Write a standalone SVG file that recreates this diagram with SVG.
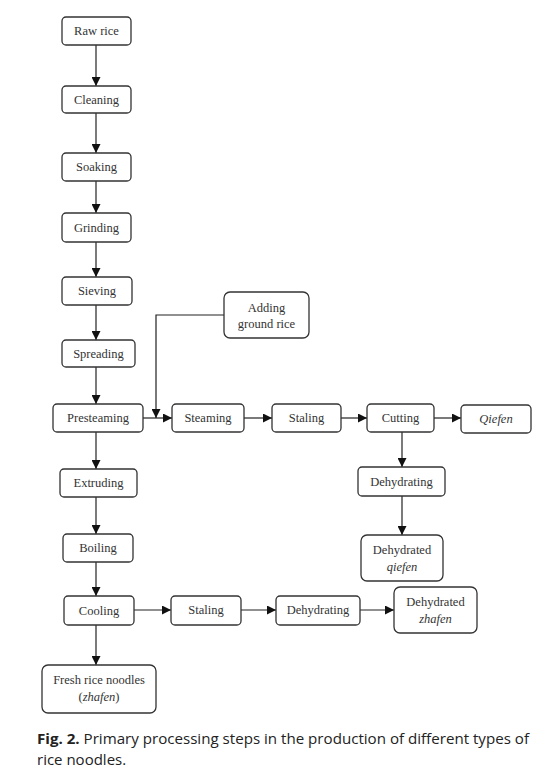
<svg xmlns="http://www.w3.org/2000/svg" width="559" height="781" viewBox="0 0 559 781">
<style>
.n rect{fill:#fff;stroke:#333;stroke-width:1.3}
.n text{font-family:"Liberation Serif",serif;font-size:12.5px;fill:#333;text-anchor:middle}
.c path{fill:none;stroke:#222;stroke-width:1.2}
.cap{font-family:"Open Sans","Liberation Sans",sans-serif;font-size:15px;fill:#222}
</style>
<defs>
<marker id="a" viewBox="0 0 10 10" refX="10" refY="5" markerWidth="9" markerHeight="9" markerUnits="userSpaceOnUse" orient="auto">
<path d="M0,0 L10,5 L0,10 z" fill="#111"/>
</marker>
</defs>
<rect width="559" height="781" fill="#fff"/>
<g class="c" marker-end="url(#a)">
<path d="M96,45 V86" marker-end="url(#a)"/>
<path d="M96,113 V153" marker-end="url(#a)"/>
<path d="M96,181 V213" marker-end="url(#a)"/>
<path d="M96,242 V277" marker-end="url(#a)"/>
<path d="M96,305 V340" marker-end="url(#a)"/>
<path d="M96,367 V404" marker-end="url(#a)"/>
<path d="M96,432 V469" marker-end="url(#a)"/>
<path d="M96,497 V534" marker-end="url(#a)"/>
<path d="M96,562 V596" marker-end="url(#a)"/>
<path d="M96,625 V665" marker-end="url(#a)"/>
<path d="M143,418 H172" marker-end="url(#a)"/>
<path d="M224,315 H156 V418" marker-end="url(#a)"/>
<path d="M244,418 H272" marker-end="url(#a)"/>
<path d="M341,418 H367" marker-end="url(#a)"/>
<path d="M434,418 H461" marker-end="url(#a)"/>
<path d="M402,432 V467" marker-end="url(#a)"/>
<path d="M402,496 V535" marker-end="url(#a)"/>
<path d="M134,610 H171" marker-end="url(#a)"/>
<path d="M241,610 H276" marker-end="url(#a)"/>
<path d="M360,610 H394" marker-end="url(#a)"/>
</g>
<g id="raw-rice" class="n"><rect x="62" y="17" width="69" height="28" rx="4"/><text x="96.5" y="35">Raw rice</text></g>
<g id="cleaning" class="n"><rect x="62" y="86" width="69" height="27" rx="4"/><text x="96.5" y="104">Cleaning</text></g>
<g id="soaking" class="n"><rect x="62" y="153" width="69" height="28" rx="4"/><text x="96.5" y="171">Soaking</text></g>
<g id="grinding" class="n"><rect x="62" y="213" width="69" height="29" rx="4"/><text x="96.5" y="232">Grinding</text></g>
<g id="sieving" class="n"><rect x="62" y="277" width="70" height="28" rx="4"/><text x="97" y="295">Sieving</text></g>
<g id="spreading" class="n"><rect x="62" y="340" width="73" height="27" rx="4"/><text x="98.5" y="358">Spreading</text></g>
<g id="presteaming" class="n"><rect x="53" y="404" width="90" height="28" rx="4"/><text x="98" y="422">Presteaming</text></g>
<g id="adding" class="n"><rect x="224" y="292" width="85" height="46" rx="6"/><text x="266.5" y="312">Adding</text><text x="266.5" y="328">ground rice</text></g>
<g id="steaming" class="n"><rect x="172" y="404" width="72" height="28" rx="4"/><text x="208" y="422">Steaming</text></g>
<g id="staling1" class="n"><rect x="272" y="404" width="69" height="28" rx="4"/><text x="306.5" y="422">Staling</text></g>
<g id="cutting" class="n"><rect x="367" y="404" width="67" height="28" rx="4"/><text x="400.5" y="422">Cutting</text></g>
<g id="qiefen" class="n"><rect x="461" y="405" width="70" height="28" rx="4"/><text x="496" y="423" font-style="italic">Qiefen</text></g>
<g id="dehydrating1" class="n"><rect x="358" y="467" width="87" height="29" rx="4"/><text x="401.5" y="486">Dehydrating</text></g>
<g id="dehydrated-qiefen" class="n"><rect x="361" y="535" width="82" height="46" rx="6"/><text x="402" y="554">Dehydrated</text><text x="402" y="571" font-style="italic">qiefen</text></g>
<g id="extruding" class="n"><rect x="60" y="469" width="77" height="28" rx="4"/><text x="98.5" y="487">Extruding</text></g>
<g id="boiling" class="n"><rect x="63" y="534" width="70" height="28" rx="4"/><text x="98" y="552">Boiling</text></g>
<g id="cooling" class="n"><rect x="64" y="596" width="70" height="29" rx="4"/><text x="99" y="615">Cooling</text></g>
<g id="staling2" class="n"><rect x="171" y="596" width="70" height="29" rx="4"/><text x="206" y="614">Staling</text></g>
<g id="dehydrating2" class="n"><rect x="276" y="596" width="84" height="29" rx="4"/><text x="318" y="614">Dehydrating</text></g>
<g id="dehydrated-zhafen" class="n"><rect x="394" y="587" width="83" height="46" rx="6"/><text x="435.5" y="606">Dehydrated</text><text x="435.5" y="623" font-style="italic">zhafen</text></g>
<g id="fresh" class="n"><rect x="42" y="665" width="114" height="48" rx="6"/><text x="99" y="684">Fresh rice noodles</text><text x="99" y="701">(<tspan font-style="italic">zhafen</tspan>)</text></g>
<text class="cap" x="37" y="744" textLength="492" lengthAdjust="spacingAndGlyphs"><tspan font-weight="bold">Fig. 2.</tspan> Primary processing steps in the production of different types of</text>
<text class="cap" x="37" y="765">rice noodles.</text>
</svg>
